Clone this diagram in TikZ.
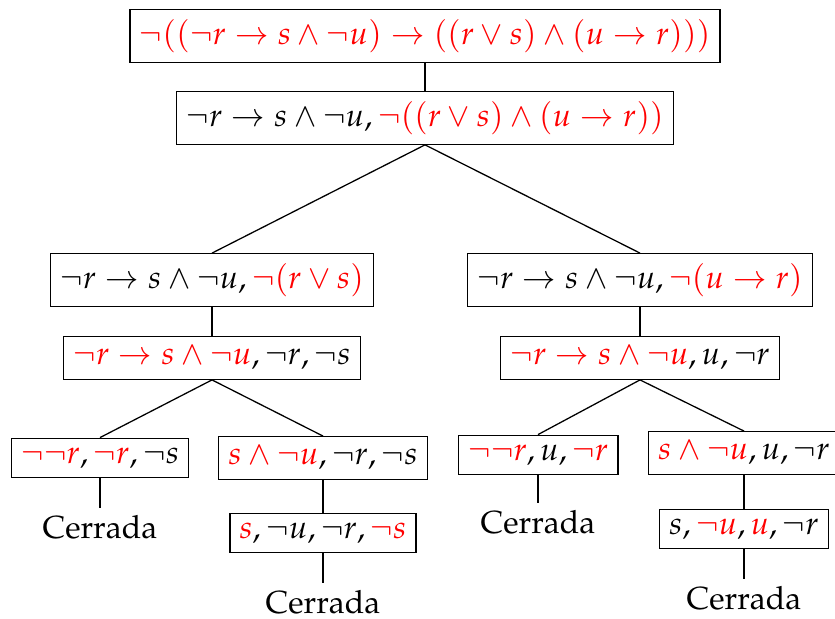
\documentclass[tikz,border=0pt]{standalone}
\usepackage[T1]{fontenc}
\usepackage{mathpazo}
\usepackage{xcolor}
\newcommand{\mk}[1]{\textcolor{red}{#1}}
\tikzset{
  frm/.style={draw, inner sep=3pt},
  closed/.style={inner sep=2pt}
}
\begin{document}
\begin{tikzpicture}[x=0.011cm, y=-0.011cm]
        \useasboundingbox (0,0) rectangle (835,619);
        % Root
        \node[frm] (root) at (425,36) {$\mk{\neg((\neg r \to s \land \neg u) \to ((r \lor s) \land (u \to r)))}$};
        \node[frm] (a) at (425,118) {$\neg r \to s \land \neg u, \mk{\neg((r \lor s) \land (u \to r))}$};
        \draw (root.south) -- (a.north);
        % Left branch
        \node[frm] (l1) at (212,280) {$\neg r \to s \land \neg u, \mk{\neg(r \lor s)}$};
        \node[frm] (l2) at (212,358) {$\mk{\neg r \to s \land \neg u}, \neg r, \neg s$};
        \node[frm] (l3a) at (100,458) {$\mk{\neg\neg r}, \mk{\neg r}, \neg s$};
        \node[frm] (l3b) at (323,458) {$\mk{s \land \neg u}, \neg r, \neg s$};
        \node[frm] (l4) at (323,533) {$\mk{s}, \neg u, \neg r, \mk{\neg s}$};
        \node[closed] (lc1) at (100,527) {Cerrada};
        \node[closed] (lc2) at (323,602) {Cerrada};
        \draw (a.south) -- (l1.north);
        \draw (l1.south) -- (l2.north);
        \draw (l2.south) -- (l3a.north);
        \draw (l2.south) -- (l3b.north);
        \draw (l3a.south) -- (lc1.north);
        \draw (l3b.south) -- (l4.north);
        \draw (l4.south) -- (lc2.north);
        % Right branch
        \node[frm] (r1) at (640,280) {$\neg r \to s \land \neg u, \mk{\neg(u \to r)}$};
        \node[frm] (r2) at (640,358) {$\mk{\neg r \to s \land \neg u}, u, \neg r$};
        \node[frm] (r3a) at (538,455) {$\mk{\neg\neg r}, u, \mk{\neg r}$};
        \node[frm] (r3b) at (744,453) {$\mk{s \land \neg u}, u, \neg r$};
        \node[frm] (r4) at (744,529) {$s, \mk{\neg u}, \mk{u}, \neg r$};
        \node[closed] (rc1) at (538,522) {Cerrada};
        \node[closed] (rc2) at (744,598) {Cerrada};
        \draw (a.south) -- (r1.north);
        \draw (r1.south) -- (r2.north);
        \draw (r2.south) -- (r3a.north);
        \draw (r2.south) -- (r3b.north);
        \draw (r3a.south) -- (rc1.north);
        \draw (r3b.south) -- (r4.north);
        \draw (r4.south) -- (rc2.north);
\end{tikzpicture}
\end{document}
